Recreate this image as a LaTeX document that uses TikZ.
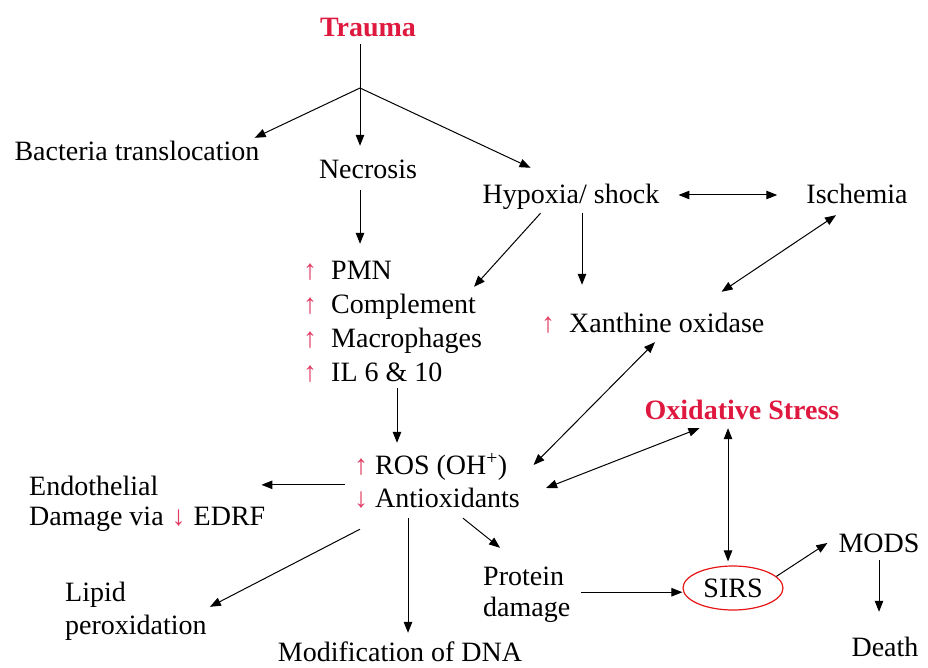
\documentclass[tikz,border=0pt]{standalone}
\usepackage{fontspec}
\setmainfont{Liberation Serif}
\usetikzlibrary{arrows.meta,shapes.geometric,calc}
\definecolor{titlered}{RGB}{222,24,62}
\definecolor{arrred}{RGB}{225,60,100}
\definecolor{ellred}{RGB}{230,20,20}
\begin{document}
\begin{tikzpicture}[x=1pt,y=-1pt,
  lab/.style={font=\fontsize{28}{32}\selectfont, inner sep=1pt, text height=22pt, text depth=4pt},
  ttl/.style={lab, font=\fontsize{28}{32}\selectfont\bfseries, text=titlered},
  sym/.style={lab, text=arrred},
  arr/.style={draw, line width=1pt, -{Triangle[length=11pt,width=8.5pt]}},
  darr/.style={draw, line width=1pt, {Triangle[length=11pt,width=8.5pt]}-{Triangle[length=11pt,width=8.5pt]}},
  ln/.style={draw, line width=1pt}]
\useasboundingbox (0,0) rectangle (928,668);
% nodes
\node[ttl] (trauma) at (368,28) {Trauma};
\coordinate (j) at (360,88);
\node[lab] (bact) at (137,152) {Bacteria translocation};
\node[lab] (necr) at (368,170) {Necrosis};
\node[lab] (hyp) at (571,195) {Hypoxia/ shock};
\node[lab] (isch) at (857,195) {Ischemia};
\node[sym] (up1) at (310,270) {↑};
\node[sym] (up2) at (310,304) {↑};
\node[sym] (up3) at (310,338) {↑};
\node[sym] (up4) at (310,372) {↑};
\node[lab,anchor=west] (pmn) at (330,270) {PMN};
\node[lab,anchor=west] (comp) at (330,304) {Complement};
\node[lab,anchor=west] (macro) at (330,338) {Macrophages};
\node[lab,anchor=west] (il) at (330,372) {IL 6 \& 10};
\node[sym] (up5) at (548,323) {↑};
\node[lab,anchor=west] (xan) at (568,323) {Xanthine oxidase};
\node[ttl] (oxs) at (742,410) {Oxidative Stress};
\node[sym] (up6) at (361,465) {↑};
\node[sym] (down1) at (361,498) {↓};
\node[lab,anchor=west] (ros) at (374,465) {ROS (OH\textsuperscript{+})};
\node[lab,anchor=west] (anti) at (374,498) {Antioxidants};
\node[lab,anchor=west] (endo) at (28,486) {Endothelial};
\node[lab,anchor=west] (dam) at (28,516) {Damage via\hspace{8pt}{\color{arrred}↓}\hspace{8pt}EDRF};
\node[lab,anchor=west] (lipid) at (64,592) {Lipid};
\node[lab,anchor=west] (perox) at (64,625) {peroxidation};
\node[lab] (dna) at (400,652) {Modification of DNA};
\node[lab,anchor=west] (prot) at (482,576) {Protein};
\node[lab,anchor=west] (pdam) at (482,607) {damage};
\node[lab,draw=ellred,line width=1.2pt,ellipse,minimum width=100pt,minimum height=44pt,inner sep=0pt] (sirs) at (733,588) {SIRS};
\node[lab] (mods) at (879,543) {MODS};
\node[lab] (death) at (885,647) {Death};
% connectors
\draw[ln] ([shift={(0,2)}]j |- trauma.south) -- (j);
\draw[arr] (j) -- ([shift={(-6,0)}]bact.north east);
\draw[arr] (j) -- ([shift={(0,-10)}]j |- necr.north);
\draw[arr] (j) -- ([shift={(49,-13)}]hyp.north west);
\draw[darr] ([xshift=18pt]hyp.east) -- ([xshift=-28pt]isch.west);
\draw[arr] ([shift={(-8,6)}]necr.south) -- ([shift={(-8,-12)}]necr.south |- pmn.north);
\draw[arr] ([shift={(59,4)}]hyp.south west) -- ([shift={(-3,-3)}]comp.north east);
\draw[arr] ([shift={(11,4)}]hyp.south) -- ([shift={(11,-24)}]hyp.south |- xan.north);
\draw[darr] ([shift={(-21,6)}]isch.south) -- ([shift={(-44,-17)}]xan.north east);
\draw[arr] ([shift={(67,2)}]il.south west) -- ([shift={(67,-8)}]il.south west |- ros.north);
\draw[darr] ([shift={(87,5)}]xan.south west) -- ([xshift=25pt]ros.east);
\draw[darr] ([shift={(56,4)}]oxs.south west) -- ([shift={(25,-10)}]anti.east);
\draw[darr] ([shift={(-14,4)}]oxs.south) -- ([shift={(-14,-4)}]oxs.south |- sirs.north);
\path ([shift={(-5,-17)}]dam.north east) coordinate (ee);
\draw[arr] ([xshift=-8pt]up6.west |- ee) -- (ee);
\draw[arr] ([shift={(-14,17)}]anti.south west) -- ([shift={(2,-4)}]perox.north east);
\draw[arr] ([shift={(34,6)}]anti.south west) -- ([shift={(34,-5)}]anti.south west |- dna.north);
\draw[arr] ([shift={(89,6)}]anti.south west) -- ([shift={(18,-14)}]prot.north west);
\draw[arr] ([shift={(16,2)}]prot.south east) coordinate (ps) -- (ps -| sirs.west);
\draw[arr] (sirs.15) -- ([xshift=-10pt]mods.west);
\draw[arr] ([shift={(0,3)}]mods.south) -- ([shift={(0,-21)}]mods.south |- death.north);
\end{tikzpicture}
\end{document}
